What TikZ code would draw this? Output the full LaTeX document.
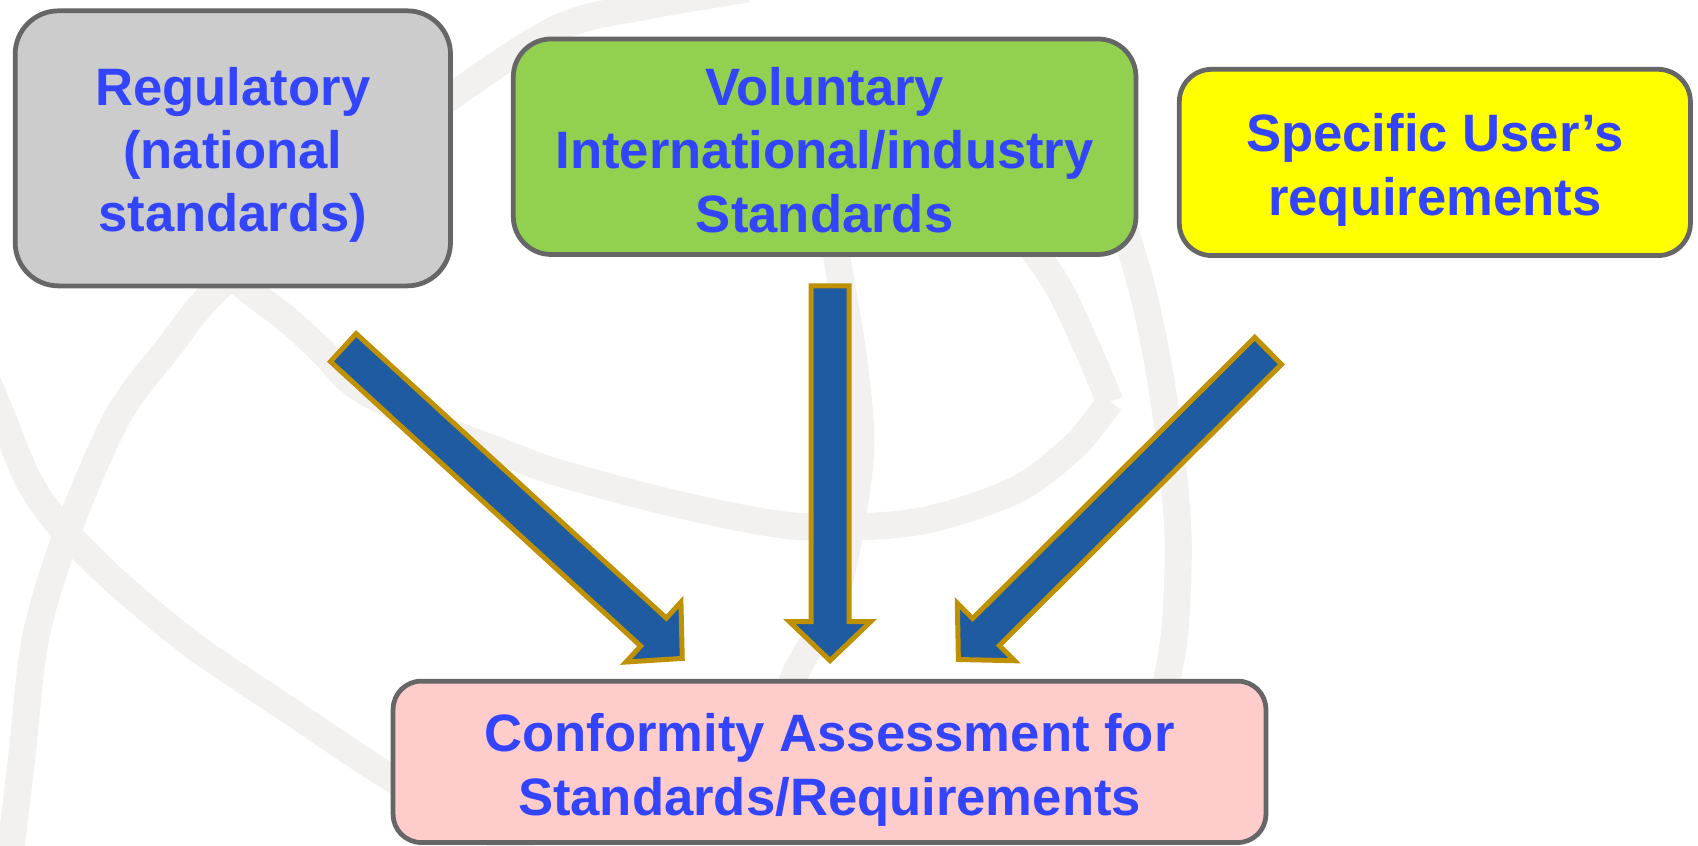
\documentclass[tikz,border=0pt]{standalone}
\usepackage{fontspec}
\setmainfont{Liberation Sans}
\usetikzlibrary{calc}
\definecolor{txtblue}{HTML}{3344FF}
\definecolor{bordergray}{HTML}{666666}
\definecolor{grayfill}{HTML}{CCCCCC}
\definecolor{greenfill}{HTML}{92D050}
\definecolor{yellowfill}{HTML}{FFFF00}
\definecolor{pinkfill}{HTML}{FFCCCC}
\definecolor{arrowblue}{RGB}{30,91,160}
\definecolor{arrowgold}{HTML}{BF9000}
\definecolor{wmgray}{HTML}{F2F1EF}
\newcommand\blockarrow[2]{%
  \coordinate (hb#2) at ($(#2)!18pt!(#1)$);
  \draw[barrow] ($(#1)!8.75pt!90:(#2)$) -- ($(hb#2)!8.75pt!90:(#2)$)
    -- ($(hb#2)!18.75pt!90:(#2)$) -- (#2) -- ($(hb#2)!18.75pt!-90:(#2)$)
    -- ($(hb#2)!8.75pt!-90:(#2)$) -- ($(#1)!8.75pt!-90:(#2)$) -- cycle;
}
\begin{document}
\begin{tikzpicture}[x=0.5pt,y=-0.5pt,
  box/.style={draw=bordergray, line width=2.2pt, inner sep=0pt},
  lbl/.style={text=txtblue, font=\fontsize{24.3pt}{29.3pt}\selectfont\bfseries, align=center, inner sep=0pt},
  barrow/.style={fill=arrowblue, draw=arrowgold, line width=2.3pt, line join=miter},
  wm/.style={draw=wmgray, line width=12.5pt, line cap=butt}]
\useasboundingbox (0,0) rectangle (1568,781);
\fill[white] (0,0) rectangle (1568,781);
% watermark
\begin{scope}
\clip (0,0) rectangle (1568,781);
\draw[wm] plot[smooth] coordinates {(8,800) (20,700) (33,588) (63,489) (109,384) (158,318) (198,269) (300,180) (417,89) (517,25) (600,5) (690,-10)};
\draw[wm] plot[smooth] coordinates {(-25,320) (0,380) (26,443) (56,486) (109,539) (181,598) (264,654) (359,717) (440,760) (500,800)};
\draw[wm] plot[smooth] coordinates {(205,245) (231,269) (264,294) (297,324) (330,357) (396,391) (462,417) (517,437) (627,466) (736,486) (846,482) (937,453) (992,412) (1025,371)};
\draw[wm] plot[smooth] coordinates {(1025,371) (1006,326) (979,268) (950,225) (920,190)};
\draw[wm] plot[smooth] coordinates {(768,200) (773,239) (788,330) (795,412) (784,495) (769,557) (736,619) (720,660)};
\draw[wm] plot[smooth] coordinates {(1035,200) (1055,268) (1070,340) (1082,422) (1088,500) (1085,582) (1075,640) (1065,680)};
\end{scope}
% boxes
\node[box, fill=grayfill, minimum width=201pt, minimum height=127pt, rounded corners=20pt] (reg) at (215,137) {};
\node[box, fill=greenfill, minimum width=287.5pt, minimum height=99.5pt, rounded corners=17.5pt] (vol) at (761.5,135.5) {};
\node[box, fill=yellowfill, minimum width=236pt, minimum height=86pt, rounded corners=15pt] (usr) at (1325,150) {};
\node[box, fill=pinkfill, minimum width=403pt, minimum height=74.5pt, rounded corners=13pt] (ca) at (766,703.5) {};
% labels
\node[lbl] (regt) at (215,143) {Regulatory\\(national\\standards)};
\node[lbl] (volt) at (761.5,138.5) {Voluntary\\International/industry\\Standards};
\node[lbl] (usrt) at (1325,157) {Specific User’s\\requirements};
\node[lbl] (cat) at (766,711) {Conformity Assessment for\\Standards/Requirements};
% arrows
\coordinate (lt) at (317,321);
\coordinate (lp) at (630,608);
\coordinate (mt) at (766.5,264);
\coordinate (mp) at (766.5,610);
\coordinate (rt) at (1171,324);
\coordinate (rp) at (885,609);
\blockarrow{lt}{lp}
\blockarrow{mt}{mp}
\blockarrow{rt}{rp}
\end{tikzpicture}
\end{document}
